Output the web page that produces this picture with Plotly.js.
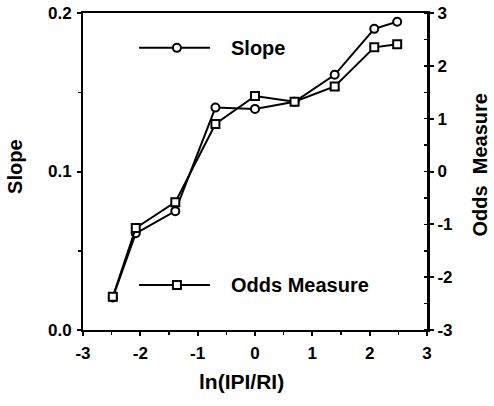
<!DOCTYPE html>
<html>
<head>
<meta charset="utf-8">
<script src="https://cdn.plot.ly/plotly-3.0.1.min.js"></script>
<style>html,body{margin:0;padding:0;background:#fff;}#chart{width:494px;height:406px;}</style>
</head>
<body>
<div id="chart"></div>
<script>
const lnRatio = [-2.48, -2.08, -1.39, -0.69, 0, 0.69, 1.39, 2.08, 2.48];
const slopeValues = [0.0205, 0.061, 0.075, 0.1403, 0.1395, 0.144, 0.161, 0.190, 0.1945];
const oddsValues = [-2.37, -1.07, -0.58, 0.90, 1.43, 1.32, 1.61, 2.35, 2.41];
const xTicks = [-3, -2, -1, 0, 1, 2, 3];
const slopeTicks = [0, 0.1, 0.2];
const oddsTicks = [-3, -2, -1, 0, 1, 2, 3];
const seriesNames = ["Slope", "Odds Measure"];
const axisTitles = {x: "ln(IPI/RI)", y: "Slope", y2: "Odds  Measure"};

const FAM = "Liberation Sans, Arial, sans-serif";
const TICKFONT = {family: FAM, size: 17, color: "#000", weight: "bold"};
const TITLEFONT = {family: FAM, size: 20, color: "#000", weight: "bold"};

const traces = [
  {
    x: lnRatio, y: slopeValues, name: seriesNames[0], type: "scatter", mode: "lines+markers",
    line: {color: "#000", width: 2},
    marker: {symbol: "circle", size: 8, color: "#fff", line: {color: "#000", width: 2}},
    yaxis: "y", showlegend: false
  },
  {
    x: lnRatio, y: oddsValues, name: seriesNames[1], type: "scatter", mode: "lines+markers",
    line: {color: "#000", width: 2},
    marker: {symbol: "square", size: 8, color: "#fff", line: {color: "#000", width: 2}},
    yaxis: "y2", showlegend: false
  }
];

const legendRows = [
  {name: seriesNames[0], y: 0.890, symbol: "circle"},
  {name: seriesNames[1], y: 0.142, symbol: "rect"}
];
const shapes = [];
const annotations = [];
legendRows.forEach(r => {
  shapes.push({type: "line", xref: "paper", yref: "paper", x0: 0.163, x1: 0.369, y0: r.y, y1: r.y,
    line: {color: "#000", width: 2}});
  shapes.push({type: r.symbol, xref: "paper", yref: "paper", xsizemode: "pixel", ysizemode: "pixel",
    xanchor: 0.273, yanchor: r.y, x0: -4, x1: 4, y0: -4, y1: 4,
    fillcolor: "#fff", line: {color: "#000", width: 2}});
  annotations.push({xref: "paper", yref: "paper", x: 0.425, y: r.y, xanchor: "left", yanchor: "middle",
    text: r.name, showarrow: false, font: TITLEFONT});
});
// axis titles
annotations.push({xref: "paper", yref: "paper", x: 0.462, y: -0.164, xanchor: "center", yanchor: "middle",
  text: axisTitles.x, showarrow: false, font: Object.assign({}, TITLEFONT, {size: 21})});
annotations.push({xref: "paper", yref: "paper", x: -0.198, y: 0.514, xanchor: "center", yanchor: "middle",
  text: axisTitles.y, showarrow: false, textangle: -90, font: TITLEFONT});
annotations.push({xref: "paper", yref: "paper", x: 1.155, y: 0.52, xanchor: "center", yanchor: "middle",
  text: axisTitles.y2, showarrow: false, textangle: -90, font: TITLEFONT});

const layout = {
  width: 494, height: 406,
  margin: {l: 83, r: 67, t: 13, b: 76},
  paper_bgcolor: "#fff", plot_bgcolor: "#fff",
  font: TICKFONT,
  showlegend: false,
  xaxis: {
    range: [-3, 3], tickvals: xTicks, ticktext: xTicks.map(String),
    ticks: "outside", ticklen: 4, tickwidth: 2, tickcolor: "#000",
    minor: {dtick: 0.5, ticks: "outside", ticklen: 3, tickwidth: 1.5, tickcolor: "#000"},
    showline: true, linecolor: "#000", linewidth: 2, mirror: true,
    showgrid: false, zeroline: false,
    tickfont: TICKFONT, ticklabelstandoff: 3
  },
  yaxis: {
    range: [0, 0.2], tickvals: slopeTicks, ticktext: slopeTicks.map(v => v.toFixed(1)),
    ticks: "outside", ticklen: 4, tickwidth: 2, tickcolor: "#000",
    minor: {dtick: 0.05, ticks: "outside", ticklen: 3, tickwidth: 1.5, tickcolor: "#000"},
    showline: true, linecolor: "#000", linewidth: 2,
    showgrid: false, zeroline: false,
    tickfont: TICKFONT, ticklabelstandoff: 2
  },
  yaxis2: {
    overlaying: "y", side: "right", anchor: "x",
    range: [-3, 3], tickvals: oddsTicks, ticktext: oddsTicks.map(String),
    ticks: "outside", ticklen: 4, tickwidth: 2, tickcolor: "#000",
    minor: {dtick: 0.5, ticks: "inside", ticklen: 3, tickwidth: 1.5, tickcolor: "#000"},
    showline: true, linecolor: "#000", linewidth: 3,
    showgrid: false, zeroline: false,
    tickfont: TICKFONT
  },
  shapes: shapes,
  annotations: annotations
};

Plotly.newPlot("chart", traces, layout, {displayModeBar: false, staticPlot: true});
</script>
</body>
</html>
